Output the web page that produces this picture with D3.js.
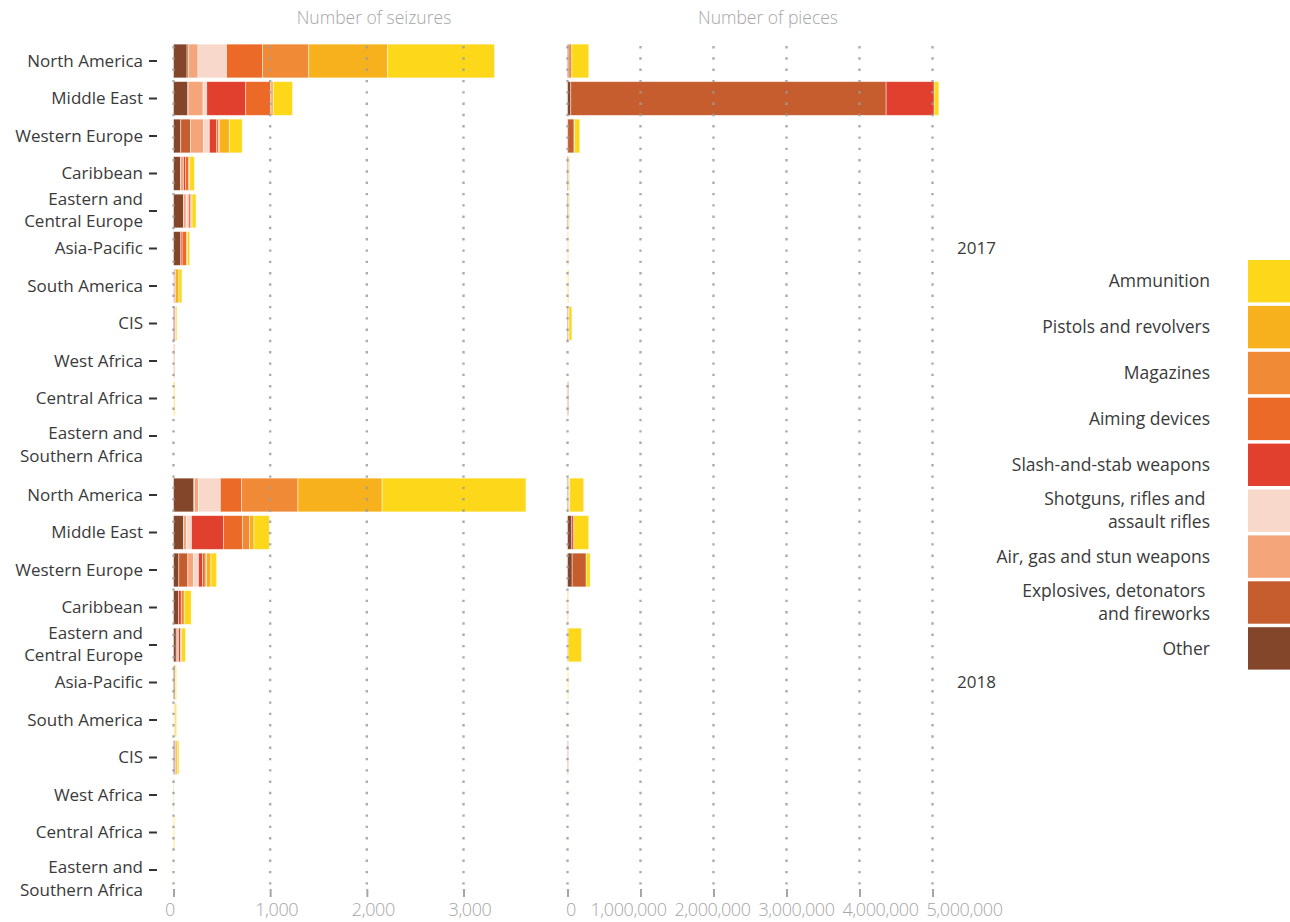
<!DOCTYPE html>
<html><head><meta charset="utf-8">
<script src="https://cdn.jsdelivr.net/npm/d3@7"></script>
<style>body{margin:0;background:#fff;} svg{display:block;font-family:"Open Sans",sans-serif;}</style>
</head><body><svg id="c" width="1290" height="922"></svg>
<script>
// ---------------- DATA ----------------
const regions = ["North America","Middle East","Western Europe","Caribbean","Eastern and Central Europe","Asia-Pacific","South America","CIS","West Africa","Central Africa","Eastern and Southern Africa"];
const regionLines = [["North America"],["Middle East"],["Western Europe"],["Caribbean"],["Eastern and","Central Europe"],["Asia-Pacific"],["South America"],["CIS"],["West Africa"],["Central Africa"],["Eastern and","Southern Africa"]];
const years = ["2017","2018"];
// stack order (left to right)
const categories = ["Other","Explosives, detonators and fireworks","Air, gas and stun weapons","Shotguns, rifles and assault rifles","Slash-and-stab weapons","Aiming devices","Magazines","Pistols and revolvers","Ammunition"];
const legendLines = [["Other"],["Explosives, detonators ","and fireworks"],["Air, gas and stun weapons"],["Shotguns, rifles and ","assault rifles"],["Slash-and-stab weapons"],["Aiming devices"],["Magazines"],["Pistols and revolvers"],["Ammunition"]];
const colors = ["#84462a","#c65d2f","#f4a57a","#f7d8ca","#e2402f","#ec6a27","#f08a36","#f7b11d","#fdd81a"];
const seizureTicks = [0,1000,2000,3000];
const pieceTicks = [0,1000000,2000000,3000000,4000000,5000000];
const panelTitles = ["Number of seizures","Number of pieces"];

// values per region, in stack order [Other, Explosives, Air gas, Shotguns, Slash, Aiming, Magazines, Pistols, Ammunition]
const seizures2017 = [
  [140,17,96,296,0,372,478,816,1105],
  [148,3,155,38,403,258,14,17,196],
  [75,100,134,62,76,17,10,103,134],
  [72,0,31,0,21,34,0,10,48],
  [103,0,28,24,17,0,10,10,41],
  [75,0,0,0,14,48,0,5,26],
  [0,0,12,0,10,0,0,34,31],
  [9,0,0,0,10,0,0,7,10],
  [0,0,8,0,0,0,7,0,0],
  [0,0,0,3,0,0,0,0,10],
  [0,0,0,0,0,0,0,0,0]
];
const seizures2018 = [
  [210,7,41,227,0,220,582,871,1488],
  [103,0,31,52,331,196,72,48,158],
  [55,93,59,52,41,28,14,45,59],
  [52,0,0,0,28,0,31,0,72],
  [28,10,14,0,21,0,10,0,41],
  [14,0,0,0,0,0,0,7,10],
  [0,0,0,12,0,0,0,5,15],
  [14,0,4,0,7,0,0,14,17],
  [3,0,0,0,0,0,0,0,2],
  [0,0,0,0,0,0,0,0,10],
  [0,0,0,2,0,0,0,0,1]
];
const pieces2017 = [
  [18000,0,0,0,0,0,41000,0,233000],
  [45000,4320000,0,0,658000,0,0,0,64000],
  [3000,87000,0,0,0,0,0,5000,73000],
  [15000,0,0,0,0,0,0,5000,10000],
  [15000,0,0,0,0,0,0,5000,8000],
  [0,0,8000,0,0,0,0,0,6000],
  [0,0,0,0,0,0,0,3000,12000],
  [15000,0,0,0,0,0,0,5000,40000],
  [0,0,0,0,0,0,0,1000,1000],
  [5000,8000,0,0,0,0,0,0,0],
  [0,0,0,0,0,0,0,0,0]
];
const pieces2018 = [
  [15000,0,0,0,0,0,8000,7000,192000],
  [59000,0,0,0,27000,0,0,0,205000],
  [64000,192000,0,0,0,0,0,0,55000],
  [0,4000,0,0,0,0,0,6000,0],
  [3000,5000,0,0,0,0,0,0,183000],
  [0,0,0,0,0,0,0,2000,10000],
  [0,0,0,2000,0,0,0,0,2000],
  [4000,6000,0,0,0,0,0,0,0],
  [0,0,0,0,0,0,0,0,1000],
  [0,0,0,0,0,0,0,0,1500],
  [0,0,0,0,0,0,0,0,0]
];

// ---------------- CHART ----------------
const svg = d3.select("#c");
const fmt = d3.format(",");
const TEXT = "#3a3a3a", GREY = "#a6a6a6";

const xS = d3.scaleLinear().domain([0,3000]).range([173.5,463.5]);
const xP = d3.scaleLinear().domain([0,5000000]).range([567.5,932.5]);
const yYear = d3.scaleBand().domain(years).range([42.25,888.75]).paddingInner(21.5/434);
const yReg = d3.scaleBand().domain(regions).range([0,yYear.bandwidth()]).paddingInner(0.1).paddingOuter(0.05);
const color = d3.scaleOrdinal().domain(categories).range(colors);

const dataSets = {"2017":{s:seizures2017,p:pieces2017},"2018":{s:seizures2018,p:pieces2018}};

function drawPanel(x, key){
  const g = svg.append("g");
  years.forEach(yr=>{
    const rows = dataSets[yr][key].map((vals,i)=>{
      const o = {region:regions[i]};
      categories.forEach((c,j)=>o[c]=vals[j]);
      return o;
    });
    const stacked = d3.stack().keys(categories)(rows);
    const yo = yYear(yr);
    g.append("g").selectAll("g").data(stacked).join("g")
      .attr("fill", d=>color(d.key))
      .selectAll("rect").data(d=>d).join("rect")
      .attr("x", d=>x(d[0]))
      .attr("width", d=>Math.max(0, x(d[1])-x(d[0])))
      .attr("y", d=>yo + yReg(d.data.region))
      .attr("height", yReg.bandwidth())
      .attr("stroke","#fff").attr("stroke-opacity",0.55).attr("stroke-width",0.8);
  });
}
drawPanel(xS,"s");
drawPanel(xP,"p");

// gridlines (dotted, on top) + bottom axes
function grid(x, ticks, labelShift){
  const g = svg.append("g");
  g.selectAll("line.grid").data(ticks).join("line")
    .attr("x1",d=>x(d)).attr("x2",d=>x(d))
    .attr("y1",46).attr("y2",888)
    .attr("stroke","#9e9e9e").attr("stroke-opacity",0.85)
    .attr("stroke-width",2.4).attr("stroke-dasharray","2.4,8.9");
  const ax = d3.axisBottom(x).tickValues(ticks).tickFormat(fmt).tickSize(8).tickPadding(6);
  const a = svg.append("g").attr("transform","translate(0,889)").call(ax);
  a.select(".domain").remove();
  a.selectAll(".tick line").attr("stroke","#a6a6a6").attr("stroke-width",2);
  a.selectAll(".tick text").attr("fill",GREY).attr("font-size",18)
    .attr("font-family","'Open Sans',sans-serif").attr("font-weight",300)
    .attr("letter-spacing","-0.4px")
    .attr("dx",(d,i)=>labelShift(i));
}
grid(xS, seizureTicks, i=> i===0 ? -4 : 6);
grid(xP, pieceTicks, i=> i===0 ? 3 : -12.5 + 11*(i-1));

// panel titles
svg.append("text").attr("x",374).attr("y",24).attr("text-anchor","middle").attr("fill",GREY).attr("font-size",17.5).attr("font-weight",300).text(panelTitles[0]);
svg.append("text").attr("x",768).attr("y",24).attr("text-anchor","middle").attr("fill",GREY).attr("font-size",17.5).attr("font-weight",300).text(panelTitles[1]);

// y-axis labels and ticks
years.forEach(yr=>{
  const yo = yYear(yr);
  regions.forEach((r,i)=>{
    const cy = yo + yReg(r) + yReg.bandwidth()/2;
    svg.append("line").attr("x1",149).attr("x2",157).attr("y1",cy).attr("y2",cy).attr("stroke","#333").attr("stroke-width",2);
    const lines = regionLines[i];
    const t = svg.append("text").attr("text-anchor","end").attr("fill",TEXT).attr("font-size",17);
    let offs;
    if(lines.length===1) offs=[0];
    else if(r.indexOf("Southern")>=0) offs=[-3,20];
    else offs=[-12,10];
    lines.forEach((l,k)=>t.append("tspan").attr("x",143).attr("y",cy+offs[k]).attr("dy","0.35em").text(l));
  });
  // year label
  svg.append("text").attr("x",957).attr("y",yo+yReg("Asia-Pacific")+yReg.bandwidth()/2).attr("dy","0.35em")
    .attr("fill",TEXT).attr("font-size",17).text(yr);
});

// legend (top: Ammunition)
const legOrder = d3.range(categories.length).reverse();
const lg = svg.append("g");
legOrder.forEach((ci,k)=>{
  const y0 = 260 + k*45.9;
  lg.append("rect").attr("x",1248).attr("y",y0).attr("width",42).attr("height",42.4).attr("fill",colors[ci]);
  const cy = y0 + 21.2;
  const lines = legendLines[ci];
  const t = lg.append("text").attr("text-anchor","end").attr("fill",TEXT).attr("font-size",17.5);
  const offs = lines.length===1 ? [0] : [-11.5,11.5];
  lines.forEach((l,j)=>t.append("tspan").attr("x",1210).attr("y",cy+offs[j]).attr("dy","0.35em").style("white-space","pre").text(l));
});
</script></body></html>
